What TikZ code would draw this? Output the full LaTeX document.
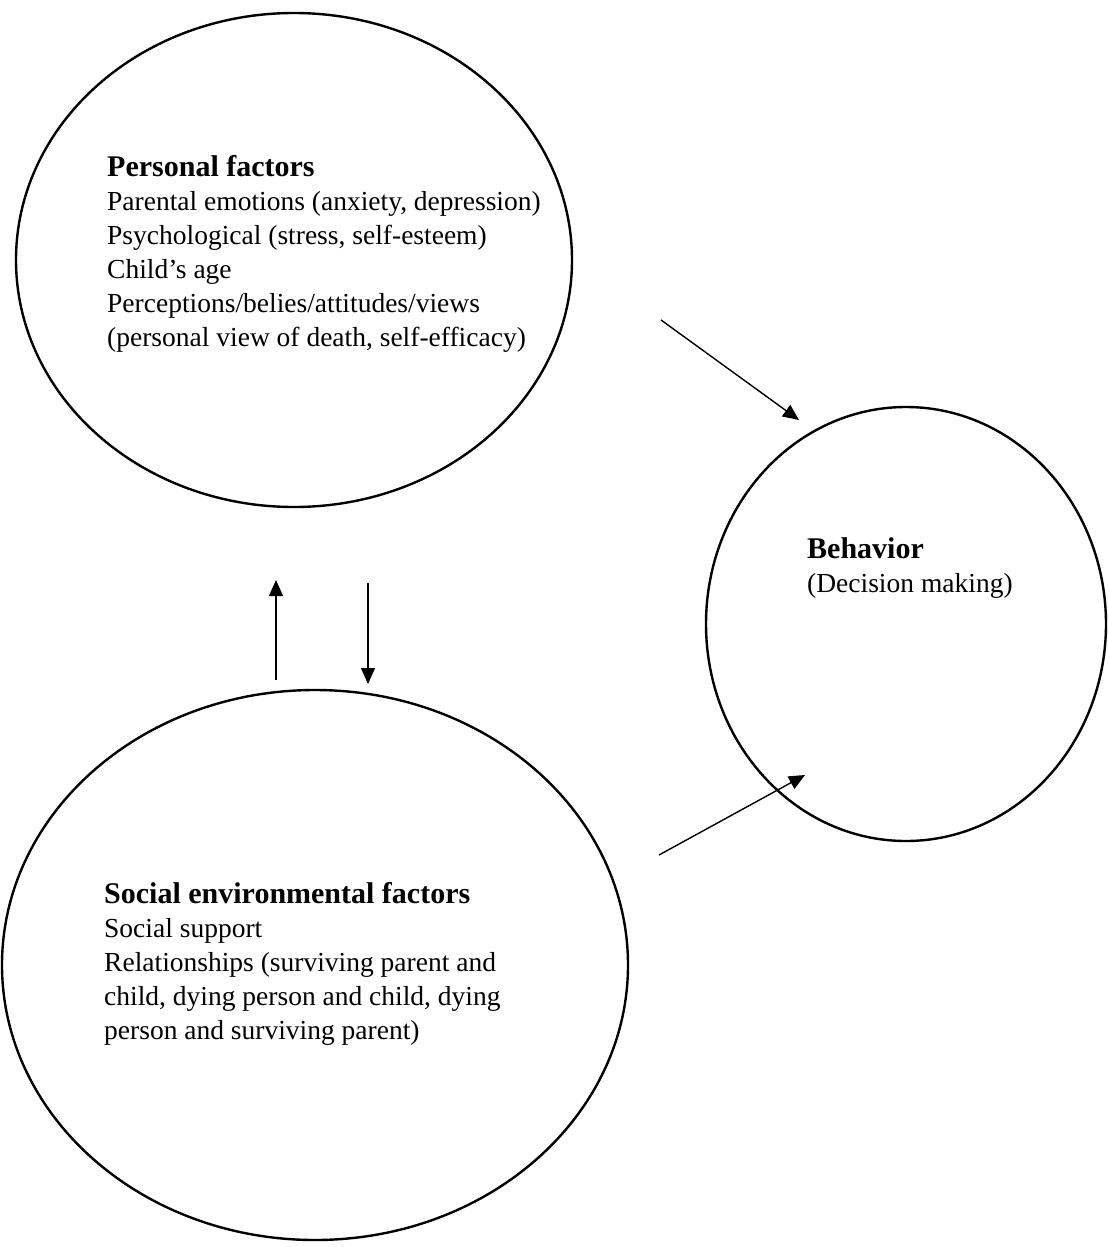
\documentclass[tikz,border=0pt]{standalone}
\usepackage{fontspec}
\setmainfont{Liberation Serif}
\usetikzlibrary{shapes.geometric,arrows.meta}
\newcommand\tfont{\fontsize{27.5}{34}\selectfont}
\newcommand\hd[1]{{\fontsize{30}{34}\selectfont\bfseries #1}}
\tikzset{
  oval/.style={ellipse,draw,line width=2.4pt,inner sep=0pt},
  lbl/.style={anchor=base west,inner sep=0pt},
  conn/.style={line width=1.4pt,-{Triangle[length=16pt,width=14pt]}}
}
\begin{document}
\begin{tikzpicture}[x=1pt,y=-1pt]
\useasboundingbox (0,0) rectangle (1108,1247);
\node[oval,minimum width=556pt,minimum height=494pt] (pers) at (294,260) {};
\node[oval,minimum width=400pt,minimum height=434pt] (beh) at (906,624) {};
\node[oval,minimum width=626pt,minimum height=550pt] (soc) at (315,965) {};
\node[lbl] (ptext) at (107,176) {\parbox[t]{470pt}{\tfont\hd{Personal factors}\\
Parental emotions (anxiety, depression)\\
Psychological (stress, self-esteem)\\
Child's age\\
Perceptions/belies/attitudes/views\\
(personal view of death, self-efficacy)}};
\node[lbl] (btext) at (807,558) {\parbox[t]{260pt}{\tfont\hd{Behavior}\\
(Decision making)}};
\node[lbl] (stext) at (104,903) {\parbox[t]{470pt}{\tfont\hd{Social environmental factors}\\
Social support\\
Relationships (surviving parent and\\
child, dying person and child, dying\\
person and surviving parent)}};
\coordinate (a1s) at (661,320);
\coordinate (a1e) at (799,420);
\coordinate (a2s) at (276,680);
\coordinate (a2e) at (276,580);
\coordinate (a3s) at (368,583);
\coordinate (a3e) at (368,684);
\coordinate (a4s) at (659,855);
\coordinate (a4e) at (805,775);
\draw[conn] (a1s) -- (a1e);
\draw[conn] (a2s) -- (a2e);
\draw[conn] (a3s) -- (a3e);
\draw[conn] (a4s) -- (a4e);
\end{tikzpicture}
\end{document}
